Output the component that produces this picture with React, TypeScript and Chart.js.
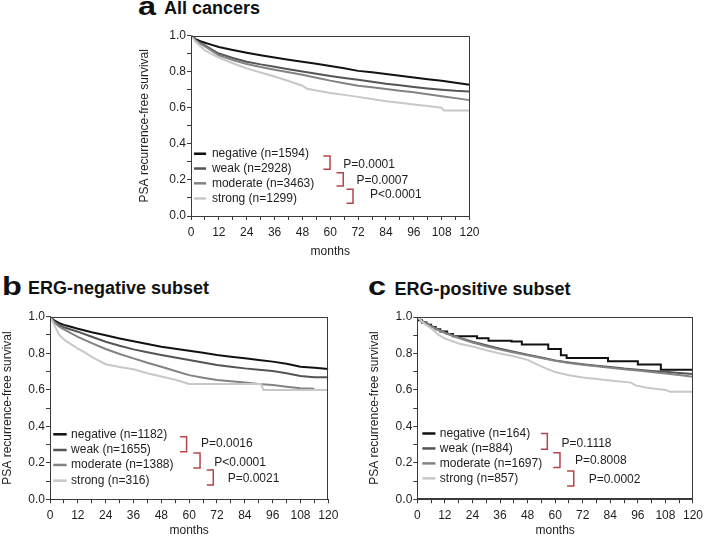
import React, { useEffect, useRef } from 'react';
import { Chart, registerables } from 'chart.js';

Chart.register(...registerables);

const FONT = "'Liberation Sans', Arial, Helvetica, sans-serif";
const TEXT = '#1e1e1e';
const AXIS = '#3a3a3a';
const BRACKET = '#b4454a';

const groups = ['negative', 'weak', 'moderate', 'strong'];
const groupColors = ['#111111', '#555555', '#838383', '#c8c8c8'];
const xTickLabels = ['0', '12', '24', '36', '48', '60', '72', '84', '96', '108', '120'];
const yTickLabels = ['0.0', '0.2', '0.4', '0.6', '0.8', '1.0'];

// ---------- Panel a: All cancers ----------
const aMonths = [0, 2, 4, 6, 9, 12, 18, 24, 30, 36, 42, 48, 54, 60, 66, 72, 78, 84, 90, 96, 102, 108, 114, 120];
const aNegative = [1.0, 0.98, 0.968, 0.96, 0.948, 0.936, 0.92, 0.905, 0.891, 0.878, 0.866, 0.855, 0.843, 0.831, 0.818, 0.804, 0.796, 0.787, 0.777, 0.767, 0.758, 0.749, 0.738, 0.727];
const aWeak = [1.0, 0.975, 0.958, 0.945, 0.922, 0.9, 0.875, 0.855, 0.84, 0.827, 0.813, 0.8, 0.788, 0.776, 0.765, 0.755, 0.744, 0.733, 0.724, 0.715, 0.707, 0.7, 0.694, 0.69];
const aModerate = [1.0, 0.972, 0.955, 0.94, 0.915, 0.89, 0.864, 0.842, 0.825, 0.81, 0.796, 0.782, 0.766, 0.75, 0.736, 0.722, 0.713, 0.704, 0.694, 0.685, 0.674, 0.664, 0.653, 0.642];
const aStrongMonths = [0, 2, 4, 6, 9, 12, 18, 24, 30, 36, 42, 48, 50, 54, 60, 66, 72, 78, 84, 90, 96, 102, 108, 109, 120];
const aStrong = [1.0, 0.965, 0.94, 0.918, 0.897, 0.878, 0.846, 0.818, 0.795, 0.773, 0.748, 0.722, 0.705, 0.695, 0.682, 0.671, 0.66, 0.648, 0.636, 0.627, 0.618, 0.609, 0.6, 0.584, 0.584];
const aCounts = [1594, 2928, 3463, 1299];
const aPValues = ['P=0.0001', 'P=0.0007', 'P<0.0001'];

// ---------- Panel b: ERG-negative subset ----------
const bMonths = [0, 2, 4, 6, 9, 12, 18, 24, 30, 36, 42, 48, 54, 60, 66, 72, 78, 84, 90, 96, 102, 108, 114, 120];
const bNegative = [1.0, 0.978, 0.965, 0.955, 0.945, 0.934, 0.915, 0.898, 0.881, 0.865, 0.85, 0.836, 0.825, 0.814, 0.802, 0.79, 0.781, 0.772, 0.763, 0.754, 0.742, 0.726, 0.72, 0.714];
const bWeak = [1.0, 0.972, 0.955, 0.942, 0.93, 0.918, 0.89, 0.863, 0.841, 0.821, 0.805, 0.79, 0.776, 0.763, 0.749, 0.735, 0.726, 0.717, 0.71, 0.703, 0.69, 0.675, 0.668, 0.668];
const bModerateMonths = [0, 2, 4, 6, 9, 12, 18, 24, 30, 36, 42, 48, 54, 60, 66, 72, 78, 84, 90, 96, 102, 108, 114];
const bModerate = [1.0, 0.968, 0.945, 0.93, 0.91, 0.89, 0.855, 0.823, 0.796, 0.772, 0.748, 0.726, 0.703, 0.68, 0.666, 0.653, 0.646, 0.639, 0.632, 0.626, 0.617, 0.608, 0.606];
const bStrongMonths = [0, 1, 2, 3, 4, 6, 9, 12, 15, 18, 24, 30, 36, 42, 48, 54, 58, 60, 91, 92, 120];
const bStrong = [1.0, 0.975, 0.95, 0.925, 0.9, 0.875, 0.85, 0.825, 0.805, 0.78, 0.74, 0.725, 0.712, 0.69, 0.672, 0.655, 0.64, 0.632, 0.632, 0.598, 0.598];
const bCounts = [1182, 1655, 1388, 316];
const bPValues = ['P=0.0016', 'P<0.0001', 'P=0.0021'];

// ---------- Panel c: ERG-positive subset ----------
const cNegativeMonths = [0, 2, 4, 6, 8, 10, 13, 15.5, 26, 31, 41, 45.5, 57, 62.5, 65, 83, 96, 106, 115, 120];
const cNegative = [1.0, 0.982, 0.97, 0.958, 0.945, 0.933, 0.92, 0.907, 0.894, 0.883, 0.87, 0.865, 0.849, 0.825, 0.79, 0.775, 0.757, 0.74, 0.71, 0.71];
const cMonths = [0, 2, 4, 6, 9, 12, 18, 24, 30, 36, 42, 48, 54, 60, 66, 72, 78, 84, 90, 96, 102, 108, 114, 120];
const cWeak = [1.0, 0.978, 0.965, 0.952, 0.932, 0.915, 0.888, 0.865, 0.845, 0.826, 0.81, 0.793, 0.778, 0.762, 0.75, 0.741, 0.733, 0.726, 0.717, 0.71, 0.704, 0.699, 0.693, 0.688];
const cModerate = [1.0, 0.975, 0.962, 0.948, 0.93, 0.912, 0.885, 0.86, 0.84, 0.821, 0.805, 0.79, 0.775, 0.76, 0.748, 0.738, 0.73, 0.722, 0.714, 0.706, 0.698, 0.69, 0.682, 0.672];
const cStrongMonths = [0, 2, 4, 6, 9, 12, 18, 24, 30, 36, 42, 48, 52, 56, 60, 66, 72, 84, 93, 95, 100, 108, 110, 120];
const cStrong = [1.0, 0.975, 0.955, 0.938, 0.905, 0.882, 0.855, 0.838, 0.818, 0.8, 0.785, 0.765, 0.74, 0.718, 0.698, 0.68, 0.668, 0.652, 0.64, 0.625, 0.612, 0.6, 0.59, 0.59];
const cCounts = [164, 884, 1697, 857];
const cPValues = ['P=0.1118', 'P=0.8008', 'P=0.0002'];

type Series = { months: number[]; surv: number[]; stepped?: boolean };

type PanelConfig = {
  letter: string;
  title: string;
  letterLeft: number;
  letterTop: number;
  titleLeft: number;
  titleTop: number;
  canvas: { left: number; top: number; width: number; height: number };
  padTop: number;
  padRight: number;
  yAxisW: number;
  xAxisH: number;
  yTitlePad: number;
  xTitlePad: number;
  series: Series[];
  counts: number[];
  pvalues: string[];
  legend: { x0: number; x1: number; textX: number; rows: number[] };
  brackets: { x0: number; x1: number; top: number; bottom: number }[];
  pPos: { x: number; y: number }[];
};

const panels: PanelConfig[] = [
  {
    letter: 'a',
    title: 'All cancers',
    letterLeft: 138,
    letterTop: -6.2,
    titleLeft: 164,
    titleTop: -1.2,
    canvas: { left: 130, top: 20, width: 360, height: 250 },
    padTop: 15.5,
    padRight: 20.5,
    yAxisW: 61,
    xAxisH: 54,
    yTitlePad: 9,
    xTitlePad: 12,
    series: [
      { months: aMonths, surv: aNegative },
      { months: aMonths, surv: aWeak },
      { months: aMonths, surv: aModerate },
      { months: aStrongMonths, surv: aStrong },
    ],
    counts: aCounts,
    pvalues: aPValues,
    legend: { x0: 1.3, x1: 6.5, textX: 9.0, rows: [0.345, 0.263, 0.181, 0.097] },
    brackets: [
      { x0: 57.0, x1: 59.9, top: 0.332, bottom: 0.259 },
      { x0: 62.7, x1: 65.6, top: 0.24, bottom: 0.166 },
      { x0: 67.0, x1: 69.8, top: 0.148, bottom: 0.07 },
    ],
    pPos: [
      { x: 65.6, y: 0.283 },
      { x: 71.3, y: 0.194 },
      { x: 77.1, y: 0.116 },
    ],
  },
  {
    letter: 'b',
    title: 'ERG-negative subset',
    letterLeft: 2,
    letterTop: 273.8,
    titleLeft: 28,
    titleTop: 278.8,
    canvas: { left: 0, top: 300, width: 350, height: 237 },
    padTop: 16.7,
    padRight: 21.7,
    yAxisW: 50,
    xAxisH: 37.7,
    yTitlePad: 1.5,
    xTitlePad: 0,
    series: [
      { months: bMonths, surv: bNegative },
      { months: bMonths, surv: bWeak },
      { months: bModerateMonths, surv: bModerate },
      { months: bStrongMonths, surv: bStrong },
    ],
    counts: bCounts,
    pvalues: bPValues,
    legend: { x0: 1.4, x1: 7.2, textX: 9.1, rows: [0.356, 0.27, 0.188, 0.102] },
    brackets: [
      { x0: 56.1, x1: 58.9, top: 0.343, bottom: 0.26 },
      { x0: 61.8, x1: 64.7, top: 0.253, bottom: 0.171 },
      { x0: 67.6, x1: 70.4, top: 0.16, bottom: 0.078 },
    ],
    pPos: [
      { x: 65.1, y: 0.303 },
      { x: 70.8, y: 0.203 },
      { x: 76.6, y: 0.115 },
    ],
  },
  {
    letter: 'c',
    title: 'ERG-positive subset',
    letterLeft: 368,
    letterTop: 273.8,
    titleLeft: 394.5,
    titleTop: 279.5,
    canvas: { left: 354, top: 300, width: 354, height: 237 },
    padTop: 17,
    padRight: 11.7,
    yAxisW: 63.3,
    xAxisH: 37.7,
    yTitlePad: 14.8,
    xTitlePad: 0,
    series: [
      { months: cNegativeMonths, surv: cNegative, stepped: true },
      { months: cMonths, surv: cWeak },
      { months: cMonths, surv: cModerate },
      { months: cStrongMonths, surv: cStrong },
    ],
    counts: cCounts,
    pvalues: cPValues,
    legend: { x0: 2.2, x1: 7.9, textX: 9.8, rows: [0.361, 0.279, 0.197, 0.115] },
    brackets: [
      { x0: 53.8, x1: 56.6, top: 0.361, bottom: 0.275 },
      { x0: 59.2, x1: 62.1, top: 0.255, bottom: 0.175 },
      { x0: 65.2, x1: 68.1, top: 0.155, bottom: 0.073 },
    ],
    pPos: [
      { x: 62.8, y: 0.307 },
      { x: 68.6, y: 0.211 },
      { x: 74.6, y: 0.106 },
    ],
  },
];

const overlayPlugin = {
  id: 'kmOverlay',
  afterDatasetsDraw(chart: any, _args: any, opts: any) {
    const { ctx, chartArea: ca, scales } = chart;
    const xs = scales.x;
    const ys = scales.y;
    const p: PanelConfig = opts.panel;
    ctx.save();
    // frame box
    ctx.strokeStyle = AXIS;
    ctx.lineWidth = 1;
    ctx.strokeRect(Math.round(ca.left) + 0.5, Math.round(ca.top) + 0.5, Math.round(ca.right - ca.left) - 1, Math.round(ca.bottom - ca.top) - 1);

    // legend
    ctx.font = `12px ${FONT}`;
    ctx.textBaseline = 'middle';
    ctx.textAlign = 'left';
    groups.forEach((g, i) => {
      const y = ys.getPixelForValue(p.legend.rows[i]);
      ctx.strokeStyle = groupColors[i];
      ctx.lineWidth = 2.5;
      ctx.beginPath();
      ctx.moveTo(xs.getPixelForValue(p.legend.x0), y);
      ctx.lineTo(xs.getPixelForValue(p.legend.x1), y);
      ctx.stroke();
      ctx.fillStyle = TEXT;
      ctx.fillText(`${g} (n=${p.counts[i]})`, xs.getPixelForValue(p.legend.textX), y);
    });

    // brackets
    ctx.strokeStyle = BRACKET;
    ctx.lineWidth = 1.5;
    p.brackets.forEach((b) => {
      const x0 = xs.getPixelForValue(b.x0);
      const x1 = xs.getPixelForValue(b.x1);
      const y0 = ys.getPixelForValue(b.top);
      const y1 = ys.getPixelForValue(b.bottom);
      ctx.beginPath();
      ctx.moveTo(x0, y0);
      ctx.lineTo(x1, y0);
      ctx.lineTo(x1, y1);
      ctx.lineTo(x0, y1);
      ctx.stroke();
    });

    // p-values
    ctx.fillStyle = TEXT;
    p.pvalues.forEach((txt, i) => {
      ctx.fillText(txt, xs.getPixelForValue(p.pPos[i].x), ys.getPixelForValue(p.pPos[i].y));
    });
    ctx.restore();
  },
};

function KMPanel({ p }: { p: PanelConfig }) {
  const ref = useRef<HTMLCanvasElement>(null);

  useEffect(() => {
    const datasets = p.series.map((s, i) => ({
      label: groups[i],
      data: s.months.map((m, j) => ({ x: m, y: s.surv[j] })),
      borderColor: groupColors[i],
      backgroundColor: groupColors[i],
      borderWidth: 2,
      pointRadius: 0,
      pointHoverRadius: 0,
      tension: 0,
      stepped: s.stepped ? 'after' : false,
      fill: false,
    }));
    // draw lighter first so dark lines stay on top
    datasets.reverse();

    const chart = new Chart(ref.current as HTMLCanvasElement, {
      type: 'line',
      data: { datasets },
      plugins: [overlayPlugin],
      options: {
        animation: false,
        responsive: false,
        maintainAspectRatio: false,
        devicePixelRatio: 1,
        events: [],
        layout: { padding: { top: p.padTop, right: p.padRight, left: 0, bottom: 0 } },
        plugins: {
          legend: { display: false },
          tooltip: { enabled: false },
          title: { display: false },
          kmOverlay: { panel: p },
        } as any,
        scales: {
          x: {
            type: 'linear',
            min: 0,
            max: 120,
            afterFit: (s: any) => {
              s.height = p.xAxisH;
            },
            ticks: {
              stepSize: 6,
              autoSkip: false,
              maxRotation: 0,
              minRotation: 0,
              padding: 5,
              color: TEXT,
              font: { family: FONT, size: 12 },
              callback: (v: any) => {
                const label = String(Math.round(Number(v)));
                return xTickLabels.includes(label) && Number(v) % 12 === 0 ? label : '';
              },
            },
            grid: { display: true, drawOnChartArea: false, drawTicks: true, tickLength: 4, color: AXIS, lineWidth: 1 },
            border: { display: true, color: AXIS, width: 1 },
            title: {
              display: true,
              text: 'months',
              color: TEXT,
              font: { family: FONT, size: 12, lineHeight: 1 },
              padding: { top: 0, bottom: p.xTitlePad },
            },
          },
          y: {
            type: 'linear',
            min: 0,
            max: 1,
            afterFit: (s: any) => {
              s.width = p.yAxisW;
            },
            ticks: {
              stepSize: 0.1,
              autoSkip: false,
              padding: 1,
              color: TEXT,
              font: { family: FONT, size: 12 },
              callback: (v: any) => {
                const label = Number(v).toFixed(1);
                return Math.round(Number(v) * 10) % 2 === 0 && yTickLabels.includes(label) ? label : '';
              },
            },
            grid: { display: true, drawOnChartArea: false, drawTicks: true, tickLength: 4, color: AXIS, lineWidth: 1 },
            border: { display: true, color: AXIS, width: 1 },
            title: {
              display: true,
              text: 'PSA recurrence-free survival',
              color: TEXT,
              font: { family: FONT, size: 12, lineHeight: 1 },
              padding: { top: p.yTitlePad, bottom: 0 },
            },
          },
        },
      } as any,
    } as any);
    return () => chart.destroy();
  }, [p]);

  const c = p.canvas;
  return (
    <>
      <div
        style={{
          position: 'absolute',
          left: p.letterLeft,
          top: p.letterTop,
          font: `bold 25px/25px ${FONT}`,
          color: '#111',
          whiteSpace: 'nowrap',
          transform: 'scaleX(1.3)',
          transformOrigin: 'left top',
        }}
      >
        {p.letter}
      </div>
      <div
        style={{
          position: 'absolute',
          left: p.titleLeft,
          top: p.titleTop,
          font: `bold 18px/18px ${FONT}`,
          color: '#111',
          whiteSpace: 'nowrap',
        }}
      >
        {p.title}
      </div>
      <canvas
        ref={ref}
        width={c.width}
        height={c.height}
        style={{ position: 'absolute', left: c.left, top: c.top, width: c.width, height: c.height }}
      />
    </>
  );
}

export default function App() {
  return (
    <div
      style={{
        position: 'absolute',
        left: 0,
        top: 0,
        width: 708,
        height: 537,
        overflow: 'hidden',
        background: '#ffffff',
      }}
    >
      {panels.map((p) => (
        <KMPanel key={p.letter} p={p} />
      ))}
    </div>
  );
}
